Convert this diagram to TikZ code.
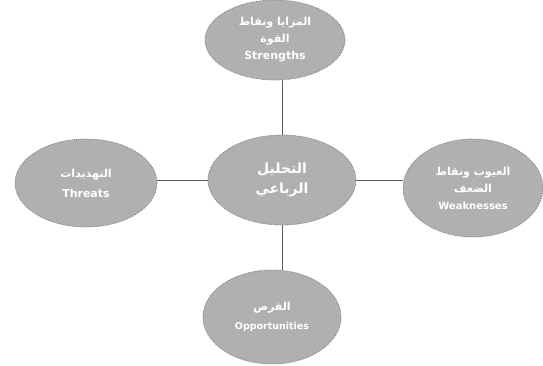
\documentclass[tikz,border=0pt]{standalone}
\usepackage{fontspec}
\setmainfont{DejaVu Sans}
\newfontfamily\arabicfont[Script=Arabic]{DejaVu Sans}
\TeXXeTstate=1
\usetikzlibrary{shapes.geometric}
\definecolor{ovfill}{HTML}{B0B0B0}
\definecolor{ovdraw}{HTML}{7F7F7F}
\definecolor{linecol}{HTML}{5E5E5E}
\tikzset{
  oval/.style={ellipse, fill=ovfill, draw=ovdraw, densely dotted, line width=0.8pt,
    text=white, font=\bfseries\fontsize{11}{17}\selectfont, align=center, inner sep=0pt},
  link/.style={draw=linecol, line width=1pt}
}
\begin{document}
\begin{tikzpicture}[x=1pt,y=-1pt]
\useasboundingbox[fill=white] (0,0) rectangle (543,365);
\node[oval, minimum width=140, minimum height=80] (top) at (275,40)
  {{\arabicfont\beginR المزايا ونقاط\endR}\\{\arabicfont\beginR القوة\endR}\\Strengths};
\node[oval, minimum width=148, minimum height=90, font=\bfseries\fontsize{14}{20}\selectfont] (mid) at (282,180)
  {{\arabicfont\beginR التحليل\endR}\\{\arabicfont\beginR الرباعي\endR}};
\node[oval, minimum width=142, minimum height=88] (left) at (86,183)
  {{\arabicfont\beginR التهديدات\endR}\\[3pt]Threats};
\node[oval, minimum width=140, minimum height=98] (right) at (473,188)
  {{\arabicfont\beginR العيوب ونقاط\endR}\\{\arabicfont\beginR الضعف\endR}\\{\fontsize{10}{17}\selectfont Weaknesses}};
\node[oval, minimum width=138, minimum height=94] (bot) at (272,317)
  {{\arabicfont\beginR الفرص\endR}\\[2pt]{\fontsize{9.5}{17}\selectfont Opportunities}};
\draw[link] (mid.north) -- (mid.north |- top.south);
\draw[link] (mid.south) -- (mid.south |- bot.north);
\draw[link] (mid.west) -- (left.east |- mid.west);
\draw[link] (mid.east) -- (right.west |- mid.east);
\end{tikzpicture}
\end{document}
